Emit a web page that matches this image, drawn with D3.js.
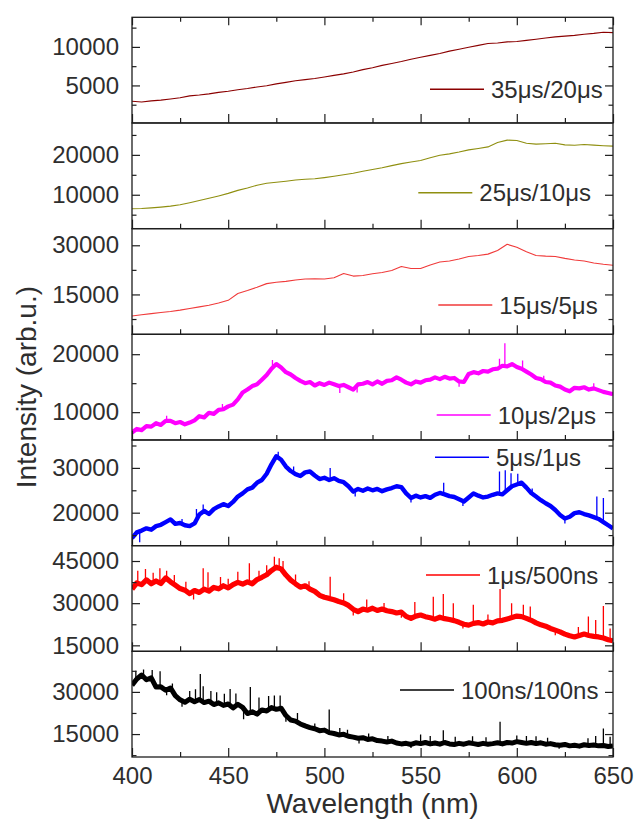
<!DOCTYPE html>
<html>
<head>
<meta charset="utf-8">
<script src="https://cdn.jsdelivr.net/npm/d3@7"></script>
<style>
  body { margin: 0; background: #ffffff; }
  svg text { font-family: "Liberation Sans", Arial, Helvetica, sans-serif; }
</style>
</head>
<body>
<svg id="chart" width="636" height="821"></svg>
<script>
// ---- Data -------------------------------------------------------------
// Gate delay / gate width of each emission spectrum, top to bottom
const seriesLabels = ["35\u03bcs/20\u03bcs", "25\u03bcs/10\u03bcs", "15\u03bcs/5\u03bcs",
                      "10\u03bcs/2\u03bcs", "5\u03bcs/1\u03bcs", "1\u03bcs/500ns", "100ns/100ns"];

// Wavelength grids (nm) for the smooth (5 nm) and noisy (2.5 nm) spectra
const wlCoarse = d3.range(400, 650.01, 5);
const wlFine = d3.range(400, 650.01, 2.5);

// Intensities (arb.u.)
const int35_20 = [
  2950, 2850, 3000, 3100, 3250, 3400, 3650, 3750, 3900, 4100,
  4250, 4450, 4600, 4800, 4950, 5200, 5400, 5600, 5750, 5900,
  6100, 6300, 6500, 6750, 7050, 7300, 7600, 7850, 8100, 8400,
  8650, 8900, 9150, 9450, 9700, 9950, 10200, 10450, 10500, 10650,
  10700, 10850, 11000, 11150, 11300, 11400, 11500, 11650, 11750, 11900,
  11850];
const int25_10 = [
  6500, 6550, 6700, 6900, 7150, 7500, 8000, 8550, 9100, 9700,
  10350, 11100, 11700, 12400, 12900, 13150, 13400, 13700, 13900, 14000,
  14300, 14650, 15000, 15400, 15900, 16350, 16750, 17300, 17800, 18200,
  18600, 19300, 19900, 20250, 20700, 21250, 21600, 22000, 23100, 23700,
  23600, 22900, 22700, 22800, 22900, 22500, 22400, 22600, 22450, 22300,
  22200];
const int15_5 = [
  8400, 8800, 9150, 9500, 9800, 10200, 10700, 11200, 11700, 12400,
  13200, 15300, 16200, 17200, 18300, 18700, 19000, 19400, 19700, 19800,
  19700, 20100, 21400, 20600, 20800, 21300, 21700, 22300, 23500, 22900,
  22900, 24000, 24900, 25200, 25800, 26600, 26900, 27300, 28400, 30300,
  29400, 28000, 26900, 26700, 26600, 26000, 25500, 25200, 24600, 24200,
  23900];
const int10_2 = [
  6500, 7100, 6900, 7600, 7500, 8100, 7800, 8500, 8500, 8100,
  8300, 7900, 8200, 8600, 9300, 9100, 9900, 9700, 10400, 10500,
  11000, 11300, 12200, 13400, 13900, 14500, 14800, 15600, 16400, 17500,
  18300, 17700, 16900, 16500, 15900, 15400, 15000, 15200, 14600, 15000,
  14700, 15100, 14800, 14500, 14700, 14300, 13900, 14800, 14900, 15200,
  14800, 15300, 14900, 15400, 15500, 16000, 15600, 15100, 14800, 15300,
  15100, 15500, 15600, 16000, 15700, 16100, 15800, 15900, 15300, 15200,
  16600, 16900, 16700, 17100, 17000, 17400, 17500, 18000, 17900, 18300,
  17800, 17500, 17000, 16500, 15900, 15700, 15200, 15100, 14600, 14400,
  13900, 13600, 14200, 14100, 14300, 13900, 14100, 13800, 13500, 13300,
  13100];
const int5_1 = [
  14300, 15600, 16000, 16500, 16200, 17000, 17300, 17900, 18500, 17500,
  17700, 17200, 17000, 17600, 19600, 20400, 19700, 20800, 21400, 21900,
  21500, 22400, 23600, 24300, 25200, 25600, 26700, 27300, 28700, 30800,
  32600, 31800, 30300, 29300, 28600, 28200, 29000, 29200, 28300, 27500,
  27800, 27300, 27700, 27100, 26800, 25900, 24700, 25300, 24900, 25400,
  25000, 25300, 24800, 25200, 25500, 25900, 25700, 24300, 23300, 23800,
  23400, 23700, 23300, 24000, 24400, 24100, 23700, 23500, 23000, 22500,
  23400, 24300, 23800, 23400, 23600, 24000, 24300, 24100, 25000, 25900,
  26300, 26700, 25600, 24400, 23600, 22800, 22100, 21500, 20600, 19500,
  18700, 19100, 19900, 20100, 19700, 19400, 19000, 18600, 17900, 17200,
  16500];
const int1_500 = [
  35000, 37200, 36600, 38300, 36900, 37900, 37000, 39000, 37600, 36400,
  35200, 34600, 33400, 34500, 33800, 35000, 34300, 35600, 35100, 36200,
  35400, 36600, 37400, 36800, 37600, 36900, 38400, 39200, 40100, 41600,
  42800, 42200, 40000, 38200, 36900, 35700, 36200, 35000, 34200, 32800,
  32100, 31700, 31200, 30600, 30100, 29200, 27800, 27000, 27900, 27500,
  28200, 27400, 27900, 27300, 27000, 26500, 26800, 25300, 24600, 25400,
  25800, 25200, 24800, 24300, 25000, 24500, 24200, 23800, 23200, 22500,
  22200, 22800, 23100, 22600, 23300, 23000, 23700, 23900, 24400, 24900,
  25400, 25200, 24600, 23900, 23000, 22300, 21800, 21000, 20400, 19800,
  19000, 18400, 18000, 18500, 19000, 18500, 18200, 18000, 17600, 17000,
  16600];
const int100_100 = [
  32400, 34600, 36000, 34300, 35000, 31700, 31800, 30600, 31400, 28700,
  27200, 26300, 27400, 26500, 27300, 26200, 26700, 25500, 26100, 25200,
  25700, 24300, 25600, 24500, 22300, 22900, 22100, 23600, 23200, 24400,
  23800, 24200, 21600, 20000, 19600, 18600, 17900, 17300, 16900, 16200,
  16400, 15500, 15200, 14700, 14900, 14200, 13900, 13500, 13700, 13100,
  13300, 12700, 12500, 12200, 12500, 11800, 11500, 11700, 11300, 11900,
  11600, 12000, 11500, 11800, 11400, 12000, 11500, 11300, 11700, 11400,
  11900, 11600, 11300, 11700, 11400, 11600, 11900, 11500, 12000, 11800,
  12300, 12000, 11700, 12000, 11600, 11900, 11400, 11600, 11200, 11000,
  11300, 10800, 11000, 10700, 11200, 10900, 11100, 10800, 10900, 10600,
  10800];

// Narrow spikes on the noisy spectra: [wavelength nm, peak intensity]
const spikes10_2 = [[418, 9400], [447, 11400], [473, 19000], [508, 13300], [517, 13400],
                    [570, 14400], [591, 19200], [593.8, 21900], [603, 18900], [614, 16300],
                    [640, 15000]];
const spikes5_1 = [[404, 13400], [426, 18600], [433.5, 20800], [437, 21800], [476, 33600],
                   [484, 30300], [503, 30000], [516, 23600], [545, 22300], [562, 26700],
                   [572, 21500], [591, 29200], [594, 29500], [597, 28800], [600.5, 28700],
                   [608, 25400], [625, 17600], [641.6, 23600], [645, 23300]];
const spikes1_500 = [[403, 41500], [407, 42200], [411, 40800], [414.5, 42400], [418, 41500],
                     [422, 40000], [428, 37600], [432, 31300], [437, 42400], [439.5, 41000],
                     [446, 39300], [450, 38700], [455, 41200], [461, 44200], [466, 41500],
                     [470, 43500], [474, 46500], [476.5, 46000], [478.5, 45000], [485, 40200],
                     [492, 37800], [503, 39400], [510, 33500], [515, 25600], [522, 31300],
                     [531, 30100], [540, 24800], [547, 30400], [556.6, 32300], [561.8, 33300],
                     [567, 30000], [572, 21000], [577.4, 29400], [585, 26000], [591.3, 35000],
                     [597.3, 30000], [603.4, 29400], [607, 28800], [620, 18600], [632, 21500],
                     [637.2, 25250], [641, 24000], [645, 29000], [648.5, 21000]];
const spikes100_100 = [[402, 37500], [406, 38000], [410.5, 37800], [414.6, 37300], [418, 28800],
                       [421, 33000], [426, 24700], [430, 30300], [433, 30900], [435.5, 36400],
                       [437, 32000], [441, 30300], [444, 29900], [448, 29300], [451, 31000],
                       [454, 29400], [458, 20300], [461.5, 31700], [466, 28000], [471, 28500],
                       [474, 28700], [477, 28700], [480, 19400], [486, 22500], [495, 18800],
                       [502.5, 23760], [508, 17200], [512, 16500], [518, 11600], [523, 15200],
                       [533, 14300], [545, 10000], [550, 14800], [555, 14300], [561.8, 16400],
                       [568, 14000], [577, 14200], [584, 13900], [591.3, 19360], [600, 14500],
                       [605, 14300], [610, 14200], [616, 13700], [622, 9800], [637, 13500],
                       [641, 14300], [645, 17000], [648.5, 14000]];

// Axis ticks
const xTicks = [400, 450, 500, 550, 600, 650];
const xMinorTicks = [425, 475, 525, 575, 625];
const yMajorTicks = [[5000, 10000], [10000, 20000], [15000, 30000], [10000, 20000],
                     [20000, 30000], [15000, 30000, 45000], [15000, 30000]];
const yMinorStep = [2500, 5000, 7500, 5000, 5000, 7500, 7500];
const yDomains = [[130, 13840], [1500, 28000], [2830, 35080], [5200, 23430],
                  [12640, 36230], [12870, 50460], [6840, 44430]];

// ---- Styling / layout ------------------------------------------------
const colors = ["#8b0000", "#8f8f10", "#f03a3a", "#ff00ff", "#0000ff", "#ff0000", "#000000"];
const lineWidths = [1.1, 1.1, 1.1, 4.2, 4.4, 5.2, 5];
const legendAt = [[430, 89.3], [418.3, 192.7], [438.3, 305], [436.7, 415],
                  [435, 457.3], [426, 575], [400, 690]];

const panels = [
  { wl: wlCoarse, values: int35_20, spikes: [] },
  { wl: wlCoarse, values: int25_10, spikes: [] },
  { wl: wlCoarse, values: int15_5, spikes: [] },
  { wl: wlFine, values: int10_2, spikes: spikes10_2 },
  { wl: wlFine, values: int5_1, spikes: spikes5_1 },
  { wl: wlFine, values: int1_500, spikes: spikes1_500 },
  { wl: wlFine, values: int100_100, spikes: spikes100_100 }
];

const svg = d3.select("#chart");
const plotLeft = 132, plotRight = 613, plotTop = 17.3, plotBottom = 757;
const panelH = (plotBottom - plotTop) / panels.length;
const axisColor = "#1e1e1e";
const textColor = "#2e2e2e";
const font = '"Liberation Sans", Arial, Helvetica, sans-serif';

const x = d3.scaleLinear().domain([400, 650]).range([plotLeft, plotRight]);

function styleAxis(g, showText) {
  g.select(".domain").remove();
  g.selectAll(".tick line").attr("stroke", axisColor).attr("stroke-width", 1.2);
  g.selectAll(".tick text")
    .attr("fill", textColor)
    .attr("font-size", 24)
    .attr("font-family", font)
    .style("display", showText ? null : "none");
}

panels.forEach((p, i) => {
  const top = plotTop + i * panelH;
  const bottom = top + panelH;
  const y = d3.scaleLinear().domain(yDomains[i]).range([bottom, top]);
  const g = svg.append("g").attr("class", "panel");

  const clipId = "clip" + i;
  svg.append("clipPath").attr("id", clipId)
    .append("rect").attr("x", plotLeft).attr("y", top)
    .attr("width", plotRight - plotLeft).attr("height", panelH);

  const pts = p.wl.map((w, k) => [w, p.values[k]]);
  const plotArea = g.append("g").attr("clip-path", `url(#${clipId})`);

  // spikes, drawn from the spectrum to their peak value
  const nearest = d3.bisector(d => d[0]).center;
  plotArea.selectAll("line.spike").data(p.spikes).join("line")
    .attr("class", "spike")
    .attr("x1", d => x(d[0])).attr("x2", d => x(d[0]))
    .attr("y1", d => y(pts[nearest(pts, d[0])][1]))
    .attr("y2", d => y(d[1]))
    .attr("stroke", colors[i]).attr("stroke-width", 1.3);

  plotArea.append("path")
    .datum(pts)
    .attr("fill", "none")
    .attr("stroke", colors[i])
    .attr("stroke-width", lineWidths[i])
    .attr("stroke-linejoin", "round")
    .attr("d", d3.line().x(d => x(d[0])).y(d => y(d[1])));

  // y axes (left with labels, right mirrored), ticks pointing inward
  const [d0, d1] = yDomains[i];
  const step = yMinorStep[i];
  const minor = d3.range(Math.ceil(d0 / step) * step, d1, step)
    .filter(v => !yMajorTicks[i].includes(v));

  g.append("g").attr("transform", `translate(${plotLeft},0)`)
    .call(d3.axisLeft(y).tickValues(yMajorTicks[i]).tickSizeInner(-8).tickSizeOuter(0)
      .tickPadding(13).tickFormat(d3.format("d")))
    .call(a => styleAxis(a, true));
  g.append("g").attr("transform", `translate(${plotLeft},0)`)
    .call(d3.axisLeft(y).tickValues(minor).tickSizeInner(-4.5).tickSizeOuter(0).tickFormat(""))
    .call(a => styleAxis(a, false));
  g.append("g").attr("transform", `translate(${plotRight},0)`)
    .call(d3.axisRight(y).tickValues(yMajorTicks[i]).tickSizeInner(-8).tickSizeOuter(0).tickFormat(""))
    .call(a => styleAxis(a, false));
  g.append("g").attr("transform", `translate(${plotRight},0)`)
    .call(d3.axisRight(y).tickValues(minor).tickSizeInner(-4.5).tickSizeOuter(0).tickFormat(""))
    .call(a => styleAxis(a, false));

  // x axis at the bottom of every panel; labels only on the last one
  const last = i === panels.length - 1;
  g.append("g").attr("transform", `translate(0,${bottom})`)
    .call(d3.axisBottom(x).tickValues(xTicks).tickSizeInner(-9).tickSizeOuter(0).tickPadding(10))
    .call(a => styleAxis(a, last));
  g.append("g").attr("transform", `translate(0,${bottom})`)
    .call(d3.axisBottom(x).tickValues(xMinorTicks).tickSizeInner(-5).tickSizeOuter(0).tickFormat(""))
    .call(a => styleAxis(a, false));
  if (i === 0) {
    g.append("g").attr("transform", `translate(0,${top})`)
      .call(d3.axisTop(x).tickValues(xTicks).tickSizeInner(-8).tickSizeOuter(0).tickFormat(""))
      .call(a => styleAxis(a, false));
    g.append("g").attr("transform", `translate(0,${top})`)
      .call(d3.axisTop(x).tickValues(xMinorTicks).tickSizeInner(-4.5).tickSizeOuter(0).tickFormat(""))
      .call(a => styleAxis(a, false));
  }

  // panel frame
  g.append("rect")
    .attr("x", plotLeft).attr("y", top)
    .attr("width", plotRight - plotLeft).attr("height", panelH)
    .attr("fill", "none").attr("stroke", axisColor).attr("stroke-width", 1.3);

  // legend entry
  const [lx, ly] = legendAt[i];
  g.append("line")
    .attr("x1", lx).attr("x2", lx + 54).attr("y1", ly).attr("y2", ly)
    .attr("stroke", colors[i]).attr("stroke-width", 1.4);
  g.append("text")
    .attr("x", lx + 61).attr("y", ly).attr("dy", "0.36em")
    .attr("font-size", 24).attr("fill", textColor)
    .text(seriesLabels[i]);
});

// axis titles
svg.append("text")
  .attr("x", (plotLeft + plotRight) / 2).attr("y", 813)
  .attr("text-anchor", "middle").attr("font-size", 28).attr("fill", textColor)
  .text("Wavelength (nm)");
svg.append("text")
  .attr("transform", `translate(36,${(plotTop + plotBottom) / 2}) rotate(-90)`)
  .attr("text-anchor", "middle").attr("font-size", 28).attr("fill", textColor)
  .text("Intensity (arb.u.)");
</script>
</body>
</html>
